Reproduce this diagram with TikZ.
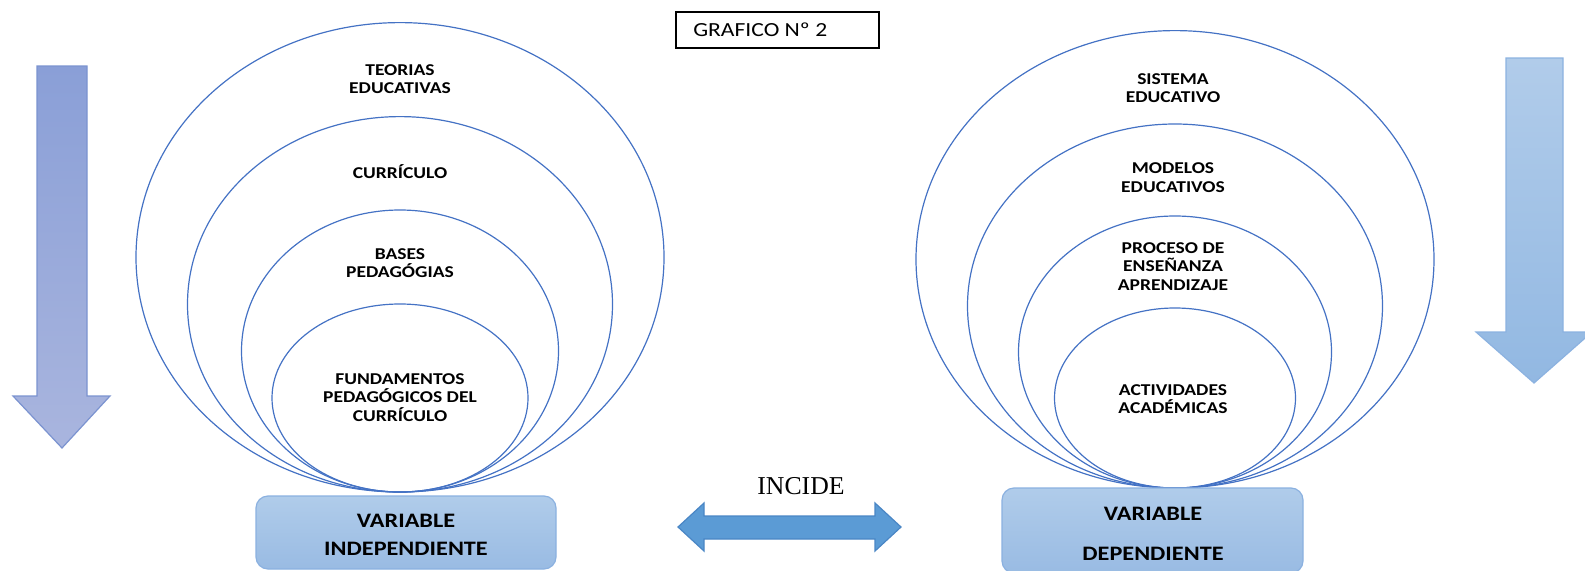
\documentclass[tikz,border=0pt]{standalone}
\usepackage{fontspec}
\setmainfont{Carlito}[FakeStretch=1.18]
\newfontfamily\timesfont{Liberation Serif}
\usepackage{tikz}

\definecolor{ringblue}{HTML}{4472C4}
\definecolor{boxtop}{HTML}{B0CCEA}
\definecolor{boxbot}{HTML}{99BBE3}
\definecolor{boxline}{HTML}{8BB1E0}
\definecolor{larrtop}{HTML}{8A9FD7}
\definecolor{larrbot}{HTML}{A9B5DE}
\definecolor{larrline}{HTML}{7B93D0}
\definecolor{rarrtop}{HTML}{B1CCEA}
\definecolor{rarrbot}{HTML}{92B8E2}
\definecolor{rarrline}{HTML}{8CB2E0}
\definecolor{incfill}{HTML}{5B9BD5}
\definecolor{incline}{HTML}{4A86C5}

\tikzset{
  ring/.style={draw=ringblue, line width=0.9pt},
  ringtext/.style={align=center, inner sep=0.75pt, font=\bfseries\fontsize{12.4}{13.9}\selectfont},
  varbox/.style={draw=boxline, line width=0.9pt, rounded corners=9pt, top color=boxtop, bottom color=boxbot},
  vartext/.style={align=center, inner sep=0.75pt, font=\bfseries\fontsize{15.4}{#1}\selectfont},
}

\begin{document}
\begin{tikzpicture}[x=0.75pt,y=0.75pt,yscale=-1,xscale=1]
\useasboundingbox (0,0) rectangle (1585,571);

%Shape: Block Arrow down (left)
\draw [draw=larrline, line width=0.9pt, top color=larrtop, bottom color=larrbot] (37,66) -- (87,66) -- (87,396) -- (110,396) -- (62,448) -- (13,396) -- (37,396) -- cycle ;
%Shape: Block Arrow down (right)
\draw [draw=rarrline, line width=0.9pt, top color=rarrtop, bottom color=rarrbot] (1506,58) -- (1563,58) -- (1563,332) -- (1592,332) -- (1534,383) -- (1476,332) -- (1506,332) -- cycle ;

%Shape: Ellipses (left)
\draw [ring] (400,257.3) ellipse [x radius=264, y radius=234.7] ;
\draw [ring] (400,304.3) ellipse [x radius=212.5, y radius=187.7] ;
\draw [ring] (400,351) ellipse [x radius=158.5, y radius=141] ;
\draw [ring] (400,398) ellipse [x radius=128, y radius=94] ;
%Shape: Ellipses (right)
\draw [ring] (1175,259.3) ellipse [x radius=259, y radius=228.7] ;
\draw [ring] (1175,306) ellipse [x radius=207.5, y radius=182] ;
\draw [ring] (1175,352) ellipse [x radius=156.5, y radius=136] ;
\draw [ring] (1175,398) ellipse [x radius=120.5, y radius=90] ;

%Rounded Rect
\draw [varbox] (256,496) rectangle (556,569) ;
\draw [varbox] (1002,488) rectangle (1303,573) ;

%Shape: Left-Right Arrow
\draw [draw=incline, line width=0.9pt, fill=incfill] (678,527) -- (704,503) -- (704,516) -- (875,516) -- (875,503) -- (901,527) -- (875,551) -- (875,539) -- (704,539) -- (704,551) -- cycle ;

%Rect
\draw [line width=1.2pt] (676,12) rectangle (879,48) ;

% Text Node
\draw (692,30) node [anchor=west][inner sep=0.75pt] (grafico) {\fontsize{15}{18}\selectfont GRAFICO Nº 2};
% Text Node
\draw (400,79) node [ringtext] (teorias) {TEORIAS\\EDUCATIVAS};
% Text Node
\draw (400,172) node [ringtext] (curriculo) {CURRÍCULO};
% Text Node
\draw (400,263) node [ringtext] (bases) {BASES\\PEDAGÓGIAS};
% Text Node
\draw (400,397.5) node [ringtext] (fundamentos) {FUNDAMENTOS\\PEDAGÓGICOS DEL\\CURRÍCULO};
% Text Node
\draw (1173,88) node [ringtext] (sistema) {SISTEMA\\EDUCATIVO};
% Text Node
\draw (1173,177.5) node [ringtext] (modelos) {MODELOS\\EDUCATIVOS};
% Text Node
\draw (1173,266.5) node [ringtext] (proceso) {PROCESO DE\\ENSEÑANZA\\APRENDIZAJE};
% Text Node
\draw (1173,399) node [ringtext] (actividades) {ACTIVIDADES\\ACADÉMICAS};
% Text Node
\draw (406,535) node [vartext=21] (vindep) {VARIABLE\\INDEPENDIENTE};
% Text Node
\draw (1153,534) node [vartext=30] (vdep) {VARIABLE\\DEPENDIENTE};
% Text Node
\draw (801,486) node [inner sep=0.75pt] (incide) {\timesfont\fontsize{19.3}{23}\selectfont INCIDE};

\end{tikzpicture}
\end{document}
